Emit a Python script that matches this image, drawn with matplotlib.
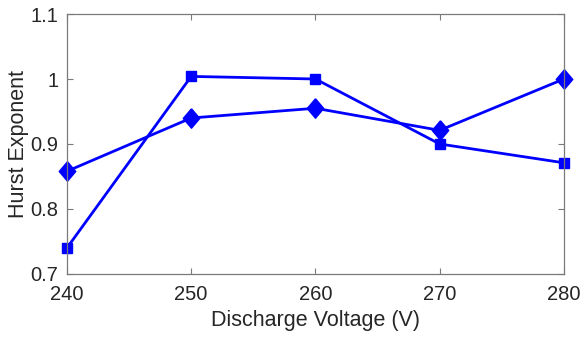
import matplotlib.pyplot as plt

plt.rcParams['font.family'] = ['Liberation Sans', 'DejaVu Sans']

voltage = [240, 250, 260, 270, 280]
hurst_square = [0.740, 1.004, 1.000, 0.900, 0.871]
hurst_diamond = [0.858, 0.940, 0.955, 0.921, 1.000]

# matlab style diamond, taller than wide
diamond = [(0, 1), (0.85, 0), (0, -1), (-0.85, 0), (0, 1)]

fig = plt.figure(figsize=(5.82, 3.42), dpi=100)
ax = fig.add_axes([0.115, 0.199, 0.854, 0.760])

ax.plot(voltage, hurst_square, color='#0000ff', lw=2, marker='s', ms=7, clip_on=False)
ax.plot(voltage, hurst_diamond, color='#0000ff', lw=2, marker=diamond, ms=14, clip_on=False)

ax.set_xlim(240, 280)
ax.set_ylim(0.7, 1.1)
ax.set_xticks(voltage)
ax.set_yticks([0.7, 0.8, 0.9, 1.0, 1.1])
ax.set_yticklabels(['0.7', '0.8', '0.9', '1', '1.1'])

ax.tick_params(direction='in', top=True, right=True, length=4, width=0.8,
               colors='#7a7a7a', labelcolor='#262626', labelsize=14.5)
ax.tick_params(axis='x', pad=8)
ax.tick_params(axis='y', pad=6)
for s in ax.spines.values():
    s.set_color('#7a7a7a')
    s.set_linewidth(0.9)

ax.set_xlabel('Discharge Voltage (V)', fontsize=15.5, color='#262626', labelpad=4)
ax.set_ylabel('Hurst Exponent', fontsize=15.5, color='#262626', labelpad=1)

fig.savefig('out.png', dpi=100)
